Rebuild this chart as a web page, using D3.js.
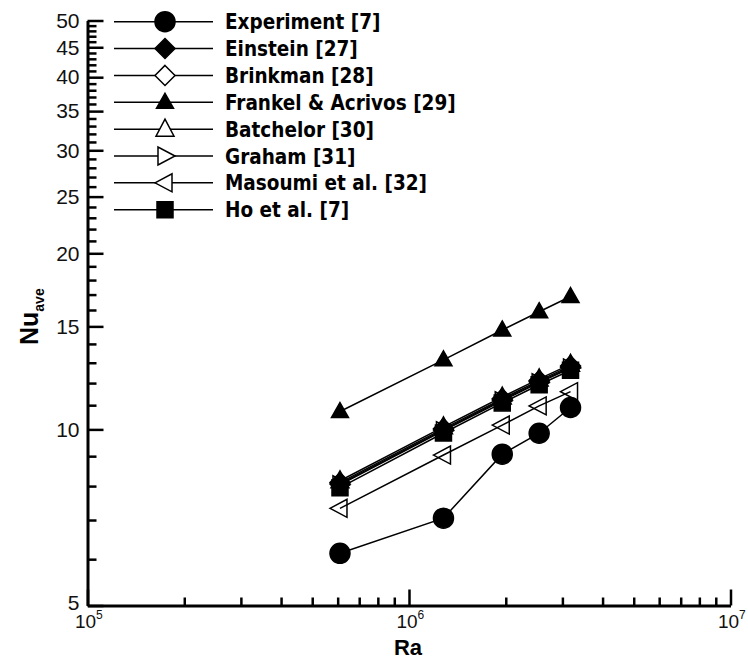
<!DOCTYPE html>
<html>
<head>
<meta charset="utf-8">
<script src="https://cdn.jsdelivr.net/npm/d3@7"></script>
<style>
  body { margin: 0; background: #fff; }
  svg { display: block; }
</style>
</head>
<body>
<svg id="chart" width="748" height="661"></svg>
<script>
// Rayleigh numbers shared by every series
const raValues = [6.1e5, 1.28e6, 1.95e6, 2.54e6, 3.18e6];

// Average Nusselt number for each model
const experiment = [6.14, 7.05, 9.07, 9.85, 10.9];
const einstein   = [8.07, 9.98, 11.23, 12.06, 12.77];
const brinkman   = [8.11, 10.03, 11.28, 12.12, 12.84];
const frankel    = [10.73, 13.15, 14.79, 15.89, 16.87];
const batchelor  = [8.17, 10.1, 11.36, 12.2, 12.92];
const graham     = [8.04, 9.95, 11.19, 12.02, 12.73];
const masoumi    = [7.33, 9.04, 10.17, 10.97, 11.6];
const hoEtAl     = [7.95, 9.86, 11.1, 11.92, 12.62];

const seriesLabels = ["Experiment [7]", "Einstein [27]", "Brinkman [28]", "Frankel & Acrivos [29]",
                      "Batchelor [30]", "Graham [31]", "Masoumi et al. [32]", "Ho et al. [7]"];
const seriesValues = [experiment, einstein, brinkman, frankel, batchelor, graham, masoumi, hoEtAl];
const seriesMarkers = ["circle", "diamond", "diamondOpen", "triangle", "triangleOpen",
                       "triangleRight", "triangleLeft", "square"];

// Axis tick values
const xMajorTicks = [1e5, 1e6, 1e7];
const xTickExponents = ["5", "6", "7"];
const xMinorTicks = [2e5, 3e5, 4e5, 5e5, 6e5, 7e5, 8e5, 9e5, 2e6, 3e6, 4e6, 5e6, 6e6, 7e6, 8e6, 9e6];
const yMajorTicks = [5, 10, 15, 20, 25, 30, 35, 40, 45, 50];
const yMinorTicks = d3.range(6, 50).filter(v => v % 5 !== 0);

const svg = d3.select("#chart");
const plotLeft = 87.5, plotRight = 730.5, plotTop = 20.5, plotBottom = 605.5;

const x = d3.scaleLog().domain([1e5, 1e7]).range([plotLeft, plotRight]);
const y = d3.scaleLog().domain([5, 50]).range([plotBottom, plotTop]);

// Marker shapes, centred on the origin
const markerPath = {
  circle:        "M10,0A10,10 0 1,1 -10,0A10,10 0 1,1 10,0Z",
  diamond:       "M0,-10L10,0L0,10L-10,0Z",
  diamondOpen:   "M0,-10L10,0L0,10L-10,0Z",
  triangle:      "M0,-9L8.5,6L-8.5,6Z",
  triangleOpen:  "M0,-10L9,7L-9,7Z",
  triangleRight: "M10,0L-7,-9L-7,9Z",
  triangleLeft:  "M-10,0L7,-9L7,9Z",
  square:        "M-8,-8H8V8H-8Z"
};
const filledMarker = { circle: true, diamond: true, triangle: true, square: true };

// ---- axes ----
const yAxisMinor = d3.axisLeft(y).tickValues(yMinorTicks).tickSize(-9).tickFormat("");
const yAxisMajor = d3.axisLeft(y).tickValues(yMajorTicks).tickSizeInner(-16).tickSizeOuter(0)
  .tickPadding(8).tickFormat(d3.format("d"));
const xAxisMinor = d3.axisBottom(x).tickValues(xMinorTicks).tickSize(-8).tickFormat("");
const xAxisMajor = d3.axisBottom(x).tickValues(xMajorTicks).tickSizeInner(-16).tickSizeOuter(0).tickFormat("");

function styleAxis(g) {
  g.select(".domain").attr("stroke", "#000").attr("stroke-width", 3);
  g.selectAll(".tick line").attr("stroke", "#000").attr("stroke-width", 2.5);
}

svg.append("g").attr("transform", `translate(${plotLeft},0)`).call(yAxisMinor)
  .call(g => g.select(".domain").remove())
  .call(g => g.selectAll(".tick line").attr("stroke", "#000").attr("stroke-width", 2.5));
svg.append("g").attr("transform", `translate(0,${plotBottom})`).call(xAxisMinor)
  .call(g => g.select(".domain").remove())
  .call(g => g.selectAll(".tick line").attr("stroke", "#000").attr("stroke-width", 2.5));

const gy = svg.append("g").attr("transform", `translate(${plotLeft},0)`).call(yAxisMajor).call(styleAxis);
gy.selectAll(".tick text")
  .attr("font-family", "'Liberation Sans', Arial, sans-serif")
  .attr("font-size", 21).attr("fill", "#111")
  .attr("dy", d => d === 5 ? "0.2em" : "0.32em");

svg.append("g").attr("transform", `translate(0,${plotBottom})`).call(xAxisMajor).call(styleAxis);

// powers of ten under the x axis
const xLabels = svg.append("g")
  .attr("font-family", "'Liberation Sans', Arial, sans-serif").attr("fill", "#111");
xMajorTicks.forEach((v, i) => {
  xLabels.append("text").attr("x", x(v) - 2).attr("y", 628)
    .attr("text-anchor", "middle").attr("font-size", 19).text("10");
  xLabels.append("text").attr("x", x(v) + 8.5).attr("y", 619)
    .attr("text-anchor", "start").attr("font-size", 12).text(xTickExponents[i]);
});

// axis titles
svg.append("text").attr("x", 408).attr("y", 655).attr("text-anchor", "middle")
  .attr("font-family", "'Liberation Sans', Arial, sans-serif").attr("font-weight", "bold")
  .attr("font-size", 22).attr("fill", "#000").text("Ra");

const nuTitle = svg.append("text")
  .attr("transform", "translate(38,345) rotate(-90)")
  .attr("font-family", "'Liberation Sans', Arial, sans-serif").attr("font-weight", "bold")
  .attr("fill", "#000");
nuTitle.append("tspan").attr("font-size", 25).text("Nu");
nuTitle.append("tspan").attr("font-size", 14).attr("dy", 6).text("ave");

// ---- series ----
const line = d3.line().x(d => x(d[0])).y(d => y(d[1]));
const plot = svg.append("g");

seriesValues.forEach((vals, i) => {
  const pts = raValues.map((r, j) => [r, vals[j]]);
  const kind = seriesMarkers[i];
  const g = plot.append("g");
  g.append("path").attr("d", line(pts)).attr("fill", "none")
    .attr("stroke", "#000").attr("stroke-width", 1.5);
  g.selectAll("path.marker").data(pts).join("path").attr("class", "marker")
    .attr("d", markerPath[kind])
    .attr("transform", d => `translate(${x(d[0])},${y(d[1])})`)
    .attr("fill", filledMarker[kind] ? "#000" : "none")
    .attr("stroke", "#000").attr("stroke-width", 1.5);
});

// ---- legend ----
const legendTop = 21.7, legendStep = 26.86;
const legend = svg.append("g");
seriesLabels.forEach((label, i) => {
  const ly = legendTop + i * legendStep;
  const kind = seriesMarkers[i];
  const row = legend.append("g").attr("transform", `translate(0,${ly})`);
  row.append("line").attr("x1", 114).attr("x2", 213).attr("y1", 0).attr("y2", 0)
    .attr("stroke", "#000").attr("stroke-width", 1.5);
  row.append("path").attr("d", markerPath[kind]).attr("transform", "translate(165,0)")
    .attr("fill", filledMarker[kind] ? "#000" : "#fff")
    .attr("stroke", "#000").attr("stroke-width", 1.5);
  row.append("text").attr("x", 225).attr("y", 7.5)
    .attr("font-family", "'DejaVu Sans Condensed', 'DejaVu Sans', sans-serif")
    .attr("font-weight", "bold").attr("font-size", 20.5).attr("fill", "#000").text(label);
});
</script>
</body>
</html>
